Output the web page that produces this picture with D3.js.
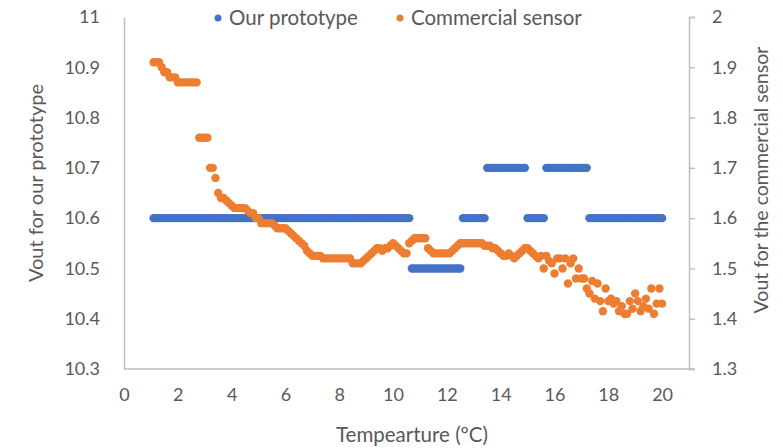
<!DOCTYPE html>
<html>
<head>
<meta charset="utf-8">
<script src="https://cdn.jsdelivr.net/npm/d3@7"></script>
<style>
body { margin: 0; background: #fff; }
text { font-family: Lato, "Open Sans", sans-serif; fill: #595959; }
</style>
</head>
<body>
<svg id="chart" width="783" height="448"></svg>
<script>
// temperature readings (ºC)
var temps = [
  1.1, 1.2, 1.3, 1.4, 1.5, 1.6, 1.7, 1.8, 1.9, 2.0,
  2.1, 2.2, 2.3, 2.4, 2.5, 2.6, 2.7, 2.8, 2.9, 3.0,
  3.1, 3.2, 3.3, 3.4, 3.5, 3.6, 3.7, 3.8, 3.9, 4.0,
  4.1, 4.2, 4.3, 4.4, 4.5, 4.6, 4.7, 4.8, 4.9, 5.0,
  5.1, 5.2, 5.3, 5.4, 5.5, 5.6, 5.7, 5.8, 5.9, 6.0,
  6.1, 6.2, 6.3, 6.4, 6.5, 6.6, 6.7, 6.8, 6.9, 7.0,
  7.1, 7.2, 7.3, 7.4, 7.5, 7.6, 7.7, 7.8, 7.9, 8.0,
  8.1, 8.2, 8.3, 8.4, 8.5, 8.6, 8.7, 8.8, 8.9, 9.0,
  9.1, 9.2, 9.3, 9.4, 9.5, 9.6, 9.7, 9.8, 9.9, 10.0,
  10.1, 10.2, 10.3, 10.4, 10.5, 10.6, 10.7, 10.8, 10.9, 11.0,
  11.1, 11.2, 11.3, 11.4, 11.5, 11.6, 11.7, 11.8, 11.9, 12.0,
  12.1, 12.2, 12.3, 12.4, 12.5, 12.6, 12.7, 12.8, 12.9, 13.0,
  13.1, 13.2, 13.3, 13.4, 13.5, 13.6, 13.7, 13.8, 13.9, 14.0,
  14.1, 14.2, 14.3, 14.4, 14.5, 14.6, 14.7, 14.8, 14.9, 15.0,
  15.1, 15.2, 15.3, 15.4, 15.5, 15.6, 15.7, 15.8, 15.9, 16.0,
  16.1, 16.2, 16.3, 16.4, 16.5, 16.6, 16.7, 16.8, 16.9, 17.0,
  17.1, 17.2, 17.3, 17.4, 17.5, 17.6, 17.7, 17.8, 17.9, 18.0,
  18.1, 18.2, 18.3, 18.4, 18.5, 18.6, 18.7, 18.8, 18.9, 19.0,
  19.1, 19.2, 19.3, 19.4, 19.5, 19.6, 19.7, 19.8, 19.9, 20.0
];

// Vout of our prototype (left axis)
var voutPrototype = [
  10.6, 10.6, 10.6, 10.6, 10.6, 10.6, 10.6, 10.6, 10.6, 10.6,
  10.6, 10.6, 10.6, 10.6, 10.6, 10.6, 10.6, 10.6, 10.6, 10.6,
  10.6, 10.6, 10.6, 10.6, 10.6, 10.6, 10.6, 10.6, 10.6, 10.6,
  10.6, 10.6, 10.6, 10.6, 10.6, 10.6, 10.6, 10.6, 10.6, 10.6,
  10.6, 10.6, 10.6, 10.6, 10.6, 10.6, 10.6, 10.6, 10.6, 10.6,
  10.6, 10.6, 10.6, 10.6, 10.6, 10.6, 10.6, 10.6, 10.6, 10.6,
  10.6, 10.6, 10.6, 10.6, 10.6, 10.6, 10.6, 10.6, 10.6, 10.6,
  10.6, 10.6, 10.6, 10.6, 10.6, 10.6, 10.6, 10.6, 10.6, 10.6,
  10.6, 10.6, 10.6, 10.6, 10.6, 10.6, 10.6, 10.6, 10.6, 10.6,
  10.6, 10.6, 10.6, 10.6, 10.6, 10.6, 10.5, 10.5, 10.5, 10.5,
  10.5, 10.5, 10.5, 10.5, 10.5, 10.5, 10.5, 10.5, 10.5, 10.5,
  10.5, 10.5, 10.5, 10.5, 10.5, 10.6, 10.6, 10.6, 10.6, 10.6,
  10.6, 10.6, 10.6, 10.6, 10.7, 10.7, 10.7, 10.7, 10.7, 10.7,
  10.7, 10.7, 10.7, 10.7, 10.7, 10.7, 10.7, 10.7, 10.7, 10.6,
  10.6, 10.6, 10.6, 10.6, 10.6, 10.6, 10.7, 10.7, 10.7, 10.7,
  10.7, 10.7, 10.7, 10.7, 10.7, 10.7, 10.7, 10.7, 10.7, 10.7,
  10.7, 10.7, 10.6, 10.6, 10.6, 10.6, 10.6, 10.6, 10.6, 10.6,
  10.6, 10.6, 10.6, 10.6, 10.6, 10.6, 10.6, 10.6, 10.6, 10.6,
  10.6, 10.6, 10.6, 10.6, 10.6, 10.6, 10.6, 10.6, 10.6, 10.6
];

// Vout of the commercial sensor (right axis)
var voutSensor = [
  1.91, 1.91, 1.91, 1.90, 1.89, 1.89, 1.88, 1.88, 1.88, 1.87,
  1.87, 1.87, 1.87, 1.87, 1.87, 1.87, 1.87, 1.76, 1.76, 1.76,
  1.76, 1.70, 1.70, 1.68, 1.65, 1.64, 1.64, 1.635, 1.63, 1.625,
  1.62, 1.62, 1.62, 1.62, 1.62, 1.615, 1.61, 1.61, 1.60, 1.60,
  1.59, 1.59, 1.59, 1.59, 1.59, 1.585, 1.58, 1.58, 1.58, 1.58,
  1.575, 1.57, 1.565, 1.56, 1.555, 1.55, 1.545, 1.535, 1.53, 1.525,
  1.525, 1.525, 1.525, 1.52, 1.52, 1.52, 1.52, 1.52, 1.52, 1.52,
  1.52, 1.52, 1.52, 1.52, 1.51, 1.51, 1.51, 1.51, 1.515, 1.52,
  1.525, 1.53, 1.535, 1.54, 1.54, 1.535, 1.54, 1.54, 1.545, 1.55,
  1.545, 1.54, 1.535, 1.53, 1.53, 1.55, 1.555, 1.56, 1.56, 1.56,
  1.56, 1.56, 1.54, 1.535, 1.53, 1.53, 1.53, 1.53, 1.53, 1.53,
  1.53, 1.535, 1.54, 1.545, 1.55, 1.55, 1.55, 1.55, 1.55, 1.55,
  1.55, 1.55, 1.55, 1.545, 1.545, 1.545, 1.54, 1.54, 1.535, 1.53,
  1.525, 1.525, 1.53, 1.525, 1.52, 1.525, 1.53, 1.535, 1.54, 1.54,
  1.535, 1.53, 1.525, 1.52, 1.525, 1.50, 1.525, 1.515, 1.51, 1.49,
  1.52, 1.52, 1.50, 1.52, 1.47, 1.51, 1.52, 1.48, 1.50, 1.48,
  1.48, 1.46, 1.45, 1.475, 1.44, 1.47, 1.435, 1.415, 1.46, 1.435,
  1.44, 1.43, 1.435, 1.415, 1.425, 1.41, 1.41, 1.435, 1.42, 1.45,
  1.435, 1.415, 1.425, 1.44, 1.42, 1.46, 1.41, 1.43, 1.46, 1.43
];

var xTicks = [0, 2, 4, 6, 8, 10, 12, 14, 16, 18, 20];
var leftTicks = [10.3, 10.4, 10.5, 10.6, 10.7, 10.8, 10.9, 11];
var rightTicks = [1.3, 1.4, 1.5, 1.6, 1.7, 1.8, 1.9, 2];

var seriesNames = ["Our prototype", "Commercial sensor"];
var seriesColors = ["#4472c4", "#ed7d31"];

var svg = d3.select("#chart"),
    margin = {top: 17, right: 94, bottom: 79, left: 124},
    width = +svg.attr("width") - margin.left - margin.right,
    height = +svg.attr("height") - margin.top - margin.bottom;

var x = d3.scaleLinear().domain([0, 21]).range([0, width]),
    yL = d3.scaleLinear().domain([10.3, 11]).range([height, 0]),
    yR = d3.scaleLinear().domain([1.3, 2]).range([height, 0]);

var g = svg.append("g")
    .attr("transform", "translate(" + margin.left + "," + margin.top + ")");

var fmt = function(d) { return d3.format("")(+d.toFixed(1)); };

// bottom axis
var xAxis = g.append("g")
    .attr("transform", "translate(0," + height + ")")
    .call(d3.axisBottom(x).tickValues(xTicks).tickSize(0).tickPadding(19).tickFormat(fmt));

// left axis
var leftAxis = g.append("g")
    .call(d3.axisLeft(yL).tickValues(leftTicks).tickSize(0).tickPadding(24).tickFormat(fmt));

// right axis, ticks outside
var rightAxis = g.append("g")
    .attr("transform", "translate(" + width + ",0)")
    .call(d3.axisRight(yR).tickValues(rightTicks).tickSize(6).tickPadding(17).tickFormat(fmt));

[xAxis, leftAxis, rightAxis].forEach(function(a) {
  a.select(".domain").attr("stroke", "#bfbfbf").attr("stroke-width", 1.5);
  a.selectAll(".tick line").attr("stroke", "#bfbfbf").attr("stroke-width", 1.5);
  a.selectAll("text").style("font-size", "18px").attr("fill", "#595959");
});
// bottom line runs out past the right axis like the tick
xAxis.select(".domain").attr("d", "M0,0H" + (width + 6));

var pts = temps.map(function(t, i) {
  return {t: t, a: voutPrototype[i], b: voutSensor[i]};
});

g.append("g").selectAll("circle")
    .data(pts)
  .enter().append("circle")
    .attr("cx", function(d) { return x(d.t); })
    .attr("cy", function(d) { return yL(d.a); })
    .attr("r", 4.2)
    .attr("fill", seriesColors[0]);

g.append("g").selectAll("circle")
    .data(pts)
  .enter().append("circle")
    .attr("cx", function(d) { return x(d.t); })
    .attr("cy", function(d) { return yR(d.b); })
    .attr("r", 4.2)
    .attr("fill", seriesColors[1]);

// axis titles
svg.append("text")
    .attr("transform", "translate(43,183) rotate(-90)")
    .attr("text-anchor", "middle")
    .style("font-size", "20px")
    .text("Vout for our prototype");

svg.append("text")
    .attr("transform", "translate(768,180) rotate(-90)")
    .attr("text-anchor", "middle")
    .style("font-size", "19.5px")
    .text("Vout for the commercial sensor");

svg.append("text")
    .attr("x", 412)
    .attr("y", 442)
    .attr("text-anchor", "middle")
    .style("font-size", "20.5px")
    .text("Tempearture (ºC)");

// legend
var legendX = [218, 400];
var legend = svg.append("g").selectAll("g")
    .data(seriesNames)
  .enter().append("g")
    .attr("transform", function(d, i) { return "translate(" + legendX[i] + ",18)"; });
legend.append("circle")
    .attr("r", 3.5)
    .attr("fill", function(d, i) { return seriesColors[i]; });
legend.append("text")
    .attr("x", 11)
    .attr("dy", "0.35em")
    .style("font-size", "20.5px")
    .text(function(d) { return d; });
</script>
</body>
</html>
